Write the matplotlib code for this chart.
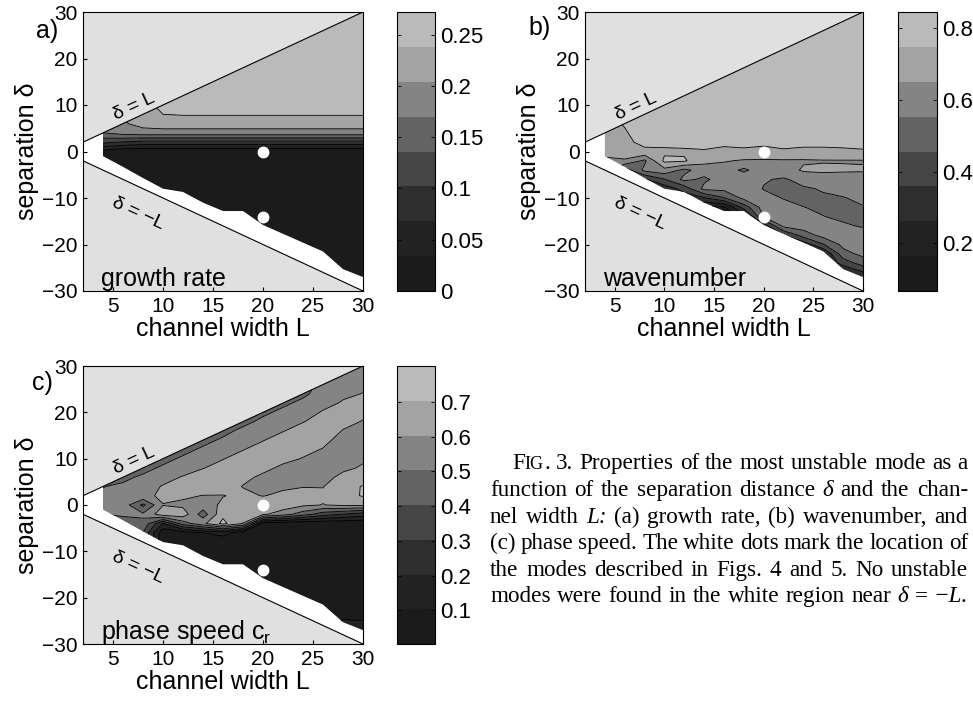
import numpy as np
import pandas as pd
import matplotlib
matplotlib.use("Agg")
import matplotlib.pyplot as plt
from matplotlib.patches import Polygon
from matplotlib.transforms import IdentityTransform

plt.rcParams['font.family'] = ['Liberation Sans', 'DejaVu Sans']
plt.rcParams['mathtext.fontset'] = 'custom'
plt.rcParams['mathtext.rm'] = 'Liberation Sans'

# ---- data -----------------------------------------------------------------
# grid of the stability calculation: channel width L (columns), separation delta (rows)
L_cols = [4, 6, 8, 10, 12, 14, 16, 18, 20, 22, 24, 26, 28, 30]
delta_rows = list(range(30, -31, -2))
# lowest delta where an unstable mode was still found (white region below)
lowest_unstable = [-1, -3.3, -5.7, -8, -8.7, -11, -12.8, -12.8, -15.8, -17.7,
                   -19.6, -21.5, -25.3, -27]
# the two modes shown in Figs. 4 and 5
marked_L = [20, 20]
marked_delta = [0, -14]

# values x 1000, rows delta = 30 ... -30, '.' = no unstable mode / outside channel
growth_rate_tab = """
  .   .   .   .   .   .   .   .   .   .   .   .   . 258
  .   .   .   .   .   .   .   .   .   .   .   . 258 258
  .   .   .   .   .   .   .   .   .   .   . 257 257 257
  .   .   .   .   .   .   .   .   .   . 256 256 256 256
  .   .   .   .   .   .   .   .   . 256 256 256 256 256
  .   .   .   .   .   .   .   . 255 255 255 255 255 255
  .   .   .   .   .   .   . 255 255 255 255 255 255 255
  .   .   .   .   .   . 254 254 254 254 254 254 254 254
  .   .   .   .   . 253 253 253 253 253 253 253 253 253
  .   .   .   . 249 251 251 251 251 251 251 251 251 251
  .   .   . 243 247 247 247 247 247 247 247 247 247 247
  .   . 232 238 240 240 240 240 240 240 240 240 240 240
  . 200 216 222 222 222 222 222 222 222 222 222 222 222
170 184 190 190 190 190 190 190 190 190 190 190 190 190
110 100  90  90  90  90  90  90  90  90  90  90  90  90
 20   5   5   5   5   5   5   5   5   5   5   5   5   5
  4   3   3   3   3   3   3   3   3   3   3   3   3   3
  .   3   3   3   3   3   3   3   3   3   3   3   3   3
  .   .   3   3   3   3   3   3   3   3   3   3   3   3
  .   .   .   3   3   3   3   3   3   3   3   3   3   3
  .   .   .   3   3   3   3   3   3   3   3   3   3   3
  .   .   .   .   .   3   3   3   3   3   3   3   3   3
  .   .   .   .   .   .   3   3   3   3   3   3   3   3
  .   .   .   .   .   .   .   .   3   3   3   3   3   3
  .   .   .   .   .   .   .   .   .   3   3   3   3   3
  .   .   .   .   .   .   .   .   .   .   3   3   3   3
  .   .   .   .   .   .   .   .   .   .   .   3   3   3
  .   .   .   .   .   .   .   .   .   .   .   .   3   3
  .   .   .   .   .   .   .   .   .   .   .   .   3   3
  .   .   .   .   .   .   .   .   .   .   .   .   .   3
  .   .   .   .   .   .   .   .   .   .   .   .   .   .
"""

wavenumber_tab = """
  .   .   .   .   .   .   .   .   .   .   .   .   . 800
  .   .   .   .   .   .   .   .   .   .   .   . 800 800
  .   .   .   .   .   .   .   .   .   .   . 800 800 800
  .   .   .   .   .   .   .   .   .   . 800 800 800 800
  .   .   .   .   .   .   .   .   . 800 800 800 800 800
  .   .   .   .   .   .   .   . 800 800 800 800 800 800
  .   .   .   .   .   .   . 800 800 800 800 800 800 800
  .   .   .   .   .   . 800 800 800 800 800 800 800 800
  .   .   .   .   . 800 800 800 800 800 800 800 800 800
  .   .   .   . 800 800 800 800 800 800 800 800 800 800
  .   .   . 800 800 800 800 800 800 800 800 800 800 800
  .   . 800 800 800 800 800 800 800 800 800 800 800 800
  . 755 800 800 800 800 800 800 800 800 800 800 800 800
720 740 790 800 800 800 800 800 800 800 800 800 800 800
710 730 770 775 775 780 775 770 770 770 770 770 770 775
700 700 730 730 735 740 720 735 720 740 730 730 735 740
620 640 535 770 760 680 660 640 640 640 640 645 645 645
  . 400 580 620 530 600 600 535 610 600 665 670 665 660
  .   . 350 450 580 535 600 620 560 545 580 600 600 610
  .   .   . 300 400 580 580 600 550 545 545 560 580 600
  .   .   . 200 300 350 450 580 580 550 540 545 550 570
  .   .   .   .   . 150 150 400 600 580 555 545 545 550
  .   .   .   .   .   . 100 200 560 600 580 555 545 545
  .   .   .   .   .   .   .   . 300 580 600 580 560 550
  .   .   .   .   .   .   .   .   . 350 500 590 580 570
  .   .   .   .   .   .   .   .   .   . 300 450 580 600
  .   .   .   .   .   .   .   .   .   .   . 250 520 580
  .   .   .   .   .   .   .   .   .   .   .   . 400 500
  .   .   .   .   .   .   .   .   .   .   .   . 250 350
  .   .   .   .   .   .   .   .   .   .   .   .   . 200
  .   .   .   .   .   .   .   .   .   .   .   .   .   .
"""

phase_speed_tab = """
  .   .   .   .   .   .   .   .   .   .   .   .   . 550
  .   .   .   .   .   .   .   .   .   .   .   . 550 570
  .   .   .   .   .   .   .   .   .   .   . 520 570 590
  .   .   .   .   .   .   .   .   .   . 480 550 590 605
  .   .   .   .   .   .   .   .   . 480 530 580 610 620
  .   .   .   .   .   .   .   . 480 530 570 610 630 615
  .   .   .   .   .   .   . 470 530 570 600 630 620 600
  .   .   .   .   .   . 470 530 570 600 630 640 600 590
  .   .   .   .   . 470 520 570 600 630 640 620 580 580
  .   .   .   . 470 520 560 600 630 640 620 600 570 580
  .   .   . 470 520 560 600 630 640 620 600 580 580 595
  .   . 470 520 560 600 630 650 620 590 580 570 590 610
  . 480 520 570 610 640 660 620 590 580 580 580 620 640
500 520 560 610 640 660 640 600 570 590 600 600 660 710
520 550 580 620 620 600 600 620 600 620 630 620 670 710
540 560 380 600 580 560 620 640 660 660 620 600 620 620
500 520 520 660 660 450 680 650 620 550 450 350 300 250
  . 450 480 200 450 580 730 600  50  30  20  20  20  20
  .   . 400  30  50 100 150  50  20  20  20  20  20  20
  .   .   .  20  20  20  20  20  20  20  20  20  20  20
  .   .   .  20  20  20  20  20  20  20  20  20  20  20
  .   .   .   .   .  20  20  20  20  20  20  20  20  20
  .   .   .   .   .   .  20  20  20  20  20  20  20  20
  .   .   .   .   .   .   .   .  20  20  20  20  20  20
  .   .   .   .   .   .   .   .   .  20  20  20  20  20
  .   .   .   .   .   .   .   .   .   .  20  20  20  20
  .   .   .   .   .   .   .   .   .   .   .  20  20  20
  .   .   .   .   .   .   .   .   .   .   .   .  50  60
  .   .   .   .   .   .   .   .   .   .   .   . 200 150
  .   .   .   .   .   .   .   .   .   .   .   .   . 250
  .   .   .   .   .   .   .   .   .   .   .   .   .   .
"""

# colour bar ranges and tick labels
growth_range = (0.0, 0.272)
wavenumber_range = (0.067, 0.846)
phase_range = (0.003, 0.803)
growth_ticks = [0, 0.05, 0.1, 0.15, 0.2, 0.25]
growth_ticklabels = ['0', '0.05', '0.1', '0.15', '0.2', '0.25']
wavenumber_ticks = [0.2, 0.4, 0.6, 0.8]
wavenumber_ticklabels = ['0.2', '0.4', '0.6', '0.8']
phase_ticks = [0.1, 0.2, 0.3, 0.4, 0.5, 0.6, 0.7]
phase_ticklabels = ['0.1', '0.2', '0.3', '0.4', '0.5', '0.6', '0.7']

caption_lines = [
    "F{IG}. 3. Properties of the most unstable mode as a",
    "function of the separation distance *δ and the chan-",
    "nel width *L: (a) growth rate, (b) wavenumber, and",
    "(c) phase speed. The white dots mark the location of",
    "the modes described in Figs. 4 and 5. No unstable",
    "modes were found in the white region near *δ = *−L.",
]

# ---- style ----------------------------------------------------------------
band_colors = ['#1b1b1b', '#222222', '#2e2e2e', '#454545',
               '#636363', '#848484', '#a3a3a3', '#bababa']
outside_grey = '#e0e0e0'
W, H = 973, 703
TICK_SIZE = 15
LABEL_SIZE = 18


def read_table(txt):
    rows = [l.split() for l in txt.strip().splitlines()]
    df = pd.DataFrame(rows).replace('.', np.nan).astype(float)
    # hidden cells (outside the clip region) take the nearest value in the column
    return df.ffill().bfill().to_numpy() / 1000.0


def px_axes(fig, left, top, right, bottom):
    return fig.add_axes([left / W, 1 - bottom / H, (right - left) / W, (bottom - top) / H])


def draw_panel(fig, ax, cax, table, vrange, ticks, ticklabels, name):
    levels = np.linspace(vrange[0], vrange[1], 9)
    ax.set_xlim(2, 30)
    ax.set_ylim(-30, 30)
    ax.add_patch(Polygon([(2, 2), (30, 30), (2, 30)], closed=True,
                         facecolor=outside_grey, edgecolor='none', zorder=0))
    ax.add_patch(Polygon([(2, -2), (30, -30), (2, -30)], closed=True,
                         facecolor=outside_grey, edgecolor='none', zorder=0))

    LL, DD = np.meshgrid(L_cols, delta_rows)
    cs = ax.contourf(LL, DD, table, levels=levels, colors=band_colors, zorder=1)
    cl = ax.contour(LL, DD, table, levels=levels[1:-1], colors='k',
                    linewidths=0.6, zorder=2)

    verts = [(L_cols[0], L_cols[0]), (L_cols[-1], L_cols[-1])]
    verts += [(l, d) for l, d in zip(L_cols[::-1], lowest_unstable[::-1])]
    region = Polygon(verts, closed=True, transform=ax.transData)
    cs.set_clip_path(region)
    cl.set_clip_path(region)

    ax.plot([2, 30], [2, 30], color='k', lw=0.8, zorder=3)
    ax.plot([2, 30], [-2, -30], color='k', lw=0.8, zorder=3)
    ax.text(7.1, 9.6, 'δ = L', fontsize=14, rotation=45, transform_rotates_text=True,
            ha='center', va='center', rotation_mode='anchor', zorder=4)
    ax.text(7.5, -13.4, 'δ = −L', fontsize=14, rotation=-45, transform_rotates_text=True,
            ha='center', va='center', rotation_mode='anchor', zorder=4)
    ax.plot(marked_L, marked_delta, 'o', color='white', mec='white', ms=7.5, zorder=5)
    ax.text(0.066, 0.018, name, transform=ax.transAxes, fontsize=LABEL_SIZE,
            ha='left', va='baseline', zorder=6)

    ax.set_xticks([5, 10, 15, 20, 25, 30])
    ax.set_yticks([-30, -20, -10, 0, 10, 20, 30])
    ax.tick_params(direction='in', length=3, labelsize=TICK_SIZE, pad=4)
    ax.set_xlabel('channel width L', fontsize=LABEL_SIZE, labelpad=1)
    ax.set_ylabel('separation δ', fontsize=LABEL_SIZE, labelpad=2)
    for sp in ax.spines.values():
        sp.set_linewidth(0.8)

    cb = fig.colorbar(cs, cax=cax)
    cb.set_ticks(ticks)
    cb.set_ticklabels(ticklabels)
    cb.outline.set_linewidth(0.8)
    cax.tick_params(direction='in', length=3, left=True, right=True,
                    labelsize=TICK_SIZE + 1, width=0.6)
    return cs


fig = plt.figure(figsize=(W / 100, H / 100), dpi=100)

ax_a = px_axes(fig, 83, 12, 363, 291)
cax_a = px_axes(fig, 397, 12, 435, 291)
ax_b = px_axes(fig, 585, 12, 863, 291)
cax_b = px_axes(fig, 898, 12, 937, 291)
ax_c = px_axes(fig, 83, 366, 363, 644)
cax_c = px_axes(fig, 397, 366, 435, 644)

draw_panel(fig, ax_a, cax_a, read_table(growth_rate_tab), growth_range,
           growth_ticks, growth_ticklabels, 'growth rate')
draw_panel(fig, ax_b, cax_b, read_table(wavenumber_tab), wavenumber_range,
           wavenumber_ticks, wavenumber_ticklabels, 'wavenumber')
draw_panel(fig, ax_c, cax_c, read_table(phase_speed_tab), phase_range,
           phase_ticks, phase_ticklabels, r'phase speed c$_\mathregular{r}$')

for letter, (x, y) in zip(['a)', 'b)', 'c)'], [(47, 31), (540, 28), (42, 383)]):
    fig.text(x, H - y, letter, fontsize=LABEL_SIZE, ha='center', va='center',
             transform=IdentityTransform())


# ---- justified caption ----------------------------------------------------
def word_segments(word):
    if word.startswith('*'):
        return [(word[1:], 'italic', 1.0)]
    if '{' in word:
        head, rest = word.split('{')
        small, tail = rest.split('}')
        return [(head, 'normal', 1.0), (small, 'normal', 0.78), (tail, 'normal', 1.0)]
    return [(word, 'normal', 1.0)]


renderer = fig.canvas.get_renderer()
cap_size = 16.7
baselines = [469, 496, 523, 549, 576, 602]
right_edge = 968
for i, line in enumerate(caption_lines):
    x_left = 512 if i == 0 else 490
    y = H - baselines[i]
    groups = []
    total = 0.0
    for w in line.split():
        arts = []
        for txt, style, scale in word_segments(w):
            t = fig.text(0, y, txt, fontsize=cap_size * scale, family='Liberation Serif',
                         style=style, ha='left', va='baseline',
                         transform=IdentityTransform())
            arts.append((t, t.get_window_extent(renderer).width))
        groups.append(arts)
        total += sum(wd for _, wd in arts)
    gap = (right_edge - x_left - total) / (len(groups) - 1)
    x = x_left
    for arts in groups:
        for t, wd in arts:
            t.set_x(x)
            x += wd
        x += gap

fig.savefig('out.png', dpi=100)
